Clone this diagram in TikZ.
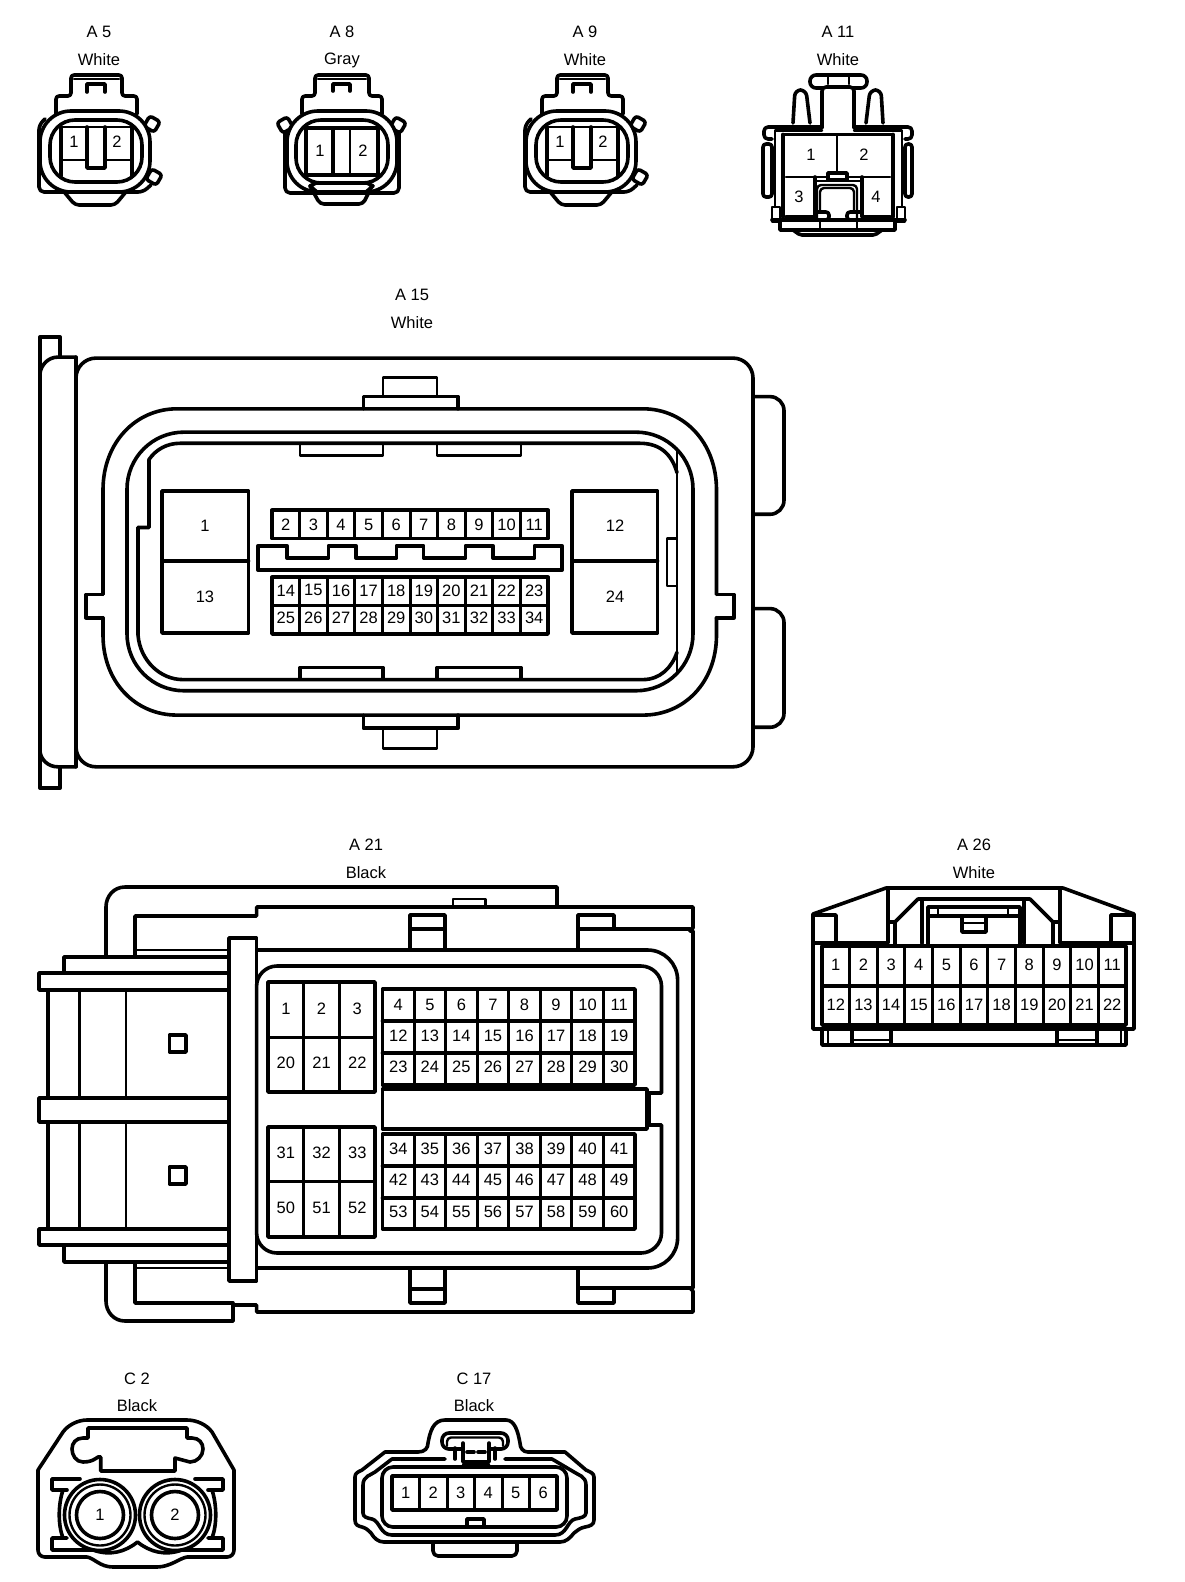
\documentclass[tikz,border=0pt]{standalone}
\usepackage{fontspec}
\setmainfont{Liberation Sans}
\tikzset{
 lbl/.style={font=\fontsize{16.5}{17}\selectfont,inner sep=0pt,text=black},
 pinno/.style={font=\fontsize{16.5}{17}\selectfont,inner sep=0pt,text=black},
 hv/.style={line width=3.6pt,line join=round,line cap=round,draw=black},
 dv/.style={line width=3pt,line join=round,draw=black},
 lt/.style={line width=2.4pt,line join=round,line cap=round,draw=black},
}
\newcommand{\pinrow}[5]{\foreach \n [count=\i from 0] in {#5}{\node[pinno] (#1\n) at ({#2+(\i+.5)*#3},#4) {\n};}}
% x0, dx, n, y0, y1
\newcommand{\gridcols}[5]{\draw[hv] (#1,#4) rectangle ({#1+#2*#3},#5);
 \foreach \k in {1,...,\numexpr#3-1\relax}{\draw[dv] ({#1+\k*#2},#4) -- ({#1+\k*#2},#5);}}
\newcommand{\ovalconn}{%
 \draw[hv,rounded corners=3] (56,114) -- (56,96) -- (71,96) -- (71,75) -- (122,75) -- (122,96) -- (137,96) -- (137,114);
 \draw[lt] (74,79) -- (119,79);
 \draw[hv] (87,92) -- (87,84) -- (105,84) -- (105,92);
 \draw[hv,rounded corners=5] (45,119) -- (39,125) -- (39,192) -- (143,192) -- (151,185);
 \draw[hv,rounded corners=4] (65,193) -- (75,205) -- (115,205) -- (125,193);
 \draw[hv,fill=white,rotate around={-30:(152,124)},rounded corners=3] (146,118) rectangle (158,130);
 \draw[hv,fill=white,rotate around={-30:(154,177)},rounded corners=3] (148,171) rectangle (160,183);
 \draw[hv,fill=white,rounded corners=31] (40,111) rectangle (150,192);
 \draw[hv,rounded corners=25] (50,120) rectangle (142,182);
 \draw[lt] (61,127) -- (132,127);
 \draw[hv] (61,127) -- (61,176);
 \draw[hv] (132,127) -- (132,176);
 \draw[lt] (61,160) -- (87,160);
 \draw[lt] (105,160) -- (132,160);
 \draw[hv] (87,127) -- (87,168) -- (105,168) -- (105,127);
}
\begin{document}
\begin{tikzpicture}[x=1pt,y=-1pt]
\useasboundingbox[fill=white] (0,0) rectangle (1184,1582);
% ---- labels
\node[lbl] (a5t) at (99,32) {A 5}; \node[lbl] (a5c) at (99,60) {White};
\node[lbl] (a8t) at (342,32) {A 8}; \node[lbl] (a8c) at (342,60) {Gray};
\node[lbl] (a9t) at (585,32) {A 9}; \node[lbl] (a9c) at (585,60) {White};
\node[lbl] (a11t) at (838,32) {A 11}; \node[lbl] (a11c) at (838,60) {White};
\node[lbl] (a15t) at (412,295) {A 15}; \node[lbl] (a15c) at (412,323) {White};
\node[lbl] (a21t) at (366,845) {A 21}; \node[lbl] (a21c) at (366,873) {Black};
\node[lbl] (a26t) at (974,845) {A 26}; \node[lbl] (a26c) at (974,873) {White};
\node[lbl] (c2t) at (137,1379) {C 2}; \node[lbl] (c2c) at (137,1406) {Black};
\node[lbl] (c17t) at (474,1379) {C 17}; \node[lbl] (c17c) at (474,1406) {Black};
% ---- A5
\ovalconn
\node[pinno] (a5p1) at (74,142) {1}; \node[pinno] (a5p2) at (117,142) {2};
% ---- A9
\begin{scope}[shift={(486,0)}]
\ovalconn
\node[pinno] (a9p1) at (74,142) {1}; \node[pinno] (a9p2) at (117,142) {2};
\end{scope}
% ---- A8
\draw[hv,rounded corners=3] (302,114) -- (302,96) -- (315,96) -- (315,75) -- (369,75) -- (369,96) -- (382,96) -- (382,114);
\draw[lt] (318,79) -- (366,79);
\draw[hv] (333,91) -- (333,84) -- (350,84) -- (350,91);
\draw[hv,rounded corners=5] (285,119) -- (285,193) -- (399,193) -- (399,119);
\draw[hv,fill=white,rotate around={30:(285,125)},rounded corners=3] (279,119) rectangle (291,131);
\draw[hv,fill=white,rotate around={-30:(398,125)},rounded corners=3] (392,119) rectangle (404,131);
\draw[hv,fill=white,rounded corners=31] (287,111) rectangle (397,192);
\draw[hv,rounded corners=25] (296,120) rectangle (388,183);
\draw[hv] (306,128) rectangle (378,175);
\draw[hv] (333,128) -- (333,175);
\draw[lt] (350,128) -- (350,175);
\draw[hv,fill=white] (310,186) -- (316,183) -- (367,183) -- (373,186) -- (366,192) -- (317,192) -- cycle;
\draw[hv,rounded corners=4] (310,186) -- (320,204) -- (363,204) -- (372,186);
\node[pinno] (a8p1) at (320,151) {1}; \node[pinno] (a8p2) at (363,151) {2};
% ---- A11
\draw[hv,rounded corners=6] (810,75) rectangle (867,88);
\draw[lt] (828,75) -- (828,84); \draw[lt] (849,75) -- (849,84);
\draw[hv,rounded corners=4,fill=white] (822,128) -- (822,87) -- (854,87) -- (854,128);
\draw[hv,rounded corners=6] (793,123) -- (795,90) -- (806,90) -- (810,123);
\draw[hv,rounded corners=6] (866,123) -- (870,90) -- (881,90) -- (883,123);
\draw[hv,rounded corners=4] (822,127) -- (764,127) -- (764,139) -- (772,139);
\draw[hv,rounded corners=4] (854,127) -- (912,127) -- (912,139) -- (905,139);
\draw[lt] (822,130.5) -- (775,130.5) -- (775,207);
\draw[lt] (854,130.5) -- (902,130.5) -- (902,207);
\draw[hv] (783,134.5) -- (893,134.5);
\draw[hv] (783,134.5) -- (783,217);
\draw[hv] (893,134.5) -- (893,217);
\draw[hv,rounded corners=3] (763,144) rectangle (772,197);
\draw[hv,rounded corners=3] (905,144) rectangle (912,197);
\draw[lt] (786,177) -- (890,177);
\draw[lt] (837,135) -- (837,177);
\draw[hv] (786,217) -- (815,217) -- (815,177);
\draw[hv] (890,217) -- (862,217) -- (862,177);
\draw[lt] (815,180.7) -- (828,180.7);
\draw[lt] (847,180.7) -- (862,180.7);
\draw[hv,fill=white] (828,173) rectangle (847,180);
\draw[lt,rounded corners=4] (817,220) -- (817,185) -- (857,185) -- (857,220);
\draw[lt,rounded corners=4] (820,212) -- (820,188) -- (854,188) -- (854,212);
\draw[hv,rounded corners=3] (815,212) -- (829,212) -- (829,220) -- (815,220);
\draw[hv,rounded corners=3] (862,212) -- (847,212) -- (847,220) -- (862,220);
\draw[lt] (772,207) -- (780,207) -- (780,222) -- (772,222) -- cycle;
\draw[lt] (905,207) -- (897,207) -- (897,222) -- (905,222) -- cycle;
\draw[hv] (772,220) -- (905,220);
\draw[hv] (780,222) -- (780,230) -- (895,230) -- (895,222);
\draw[lt] (820,220) -- (820,230); \draw[lt] (857,220) -- (857,230);
\draw[hv,rounded corners=2] (793,230) -- (800,235) -- (875,235) -- (882,230);
\node[pinno] (a11p1) at (811,155) {1}; \node[pinno] (a11p2) at (864,155) {2};
\node[pinno] (a11p3) at (799,197) {3}; \node[pinno] (a11p4) at (876,197) {4};
% ---- A15
\begin{scope}[shift={(0,-3.976)},yscale=1.0142]
\draw[hv] (60,356) -- (60,336) -- (40,336) -- (40,781) -- (60,781) -- (60,760);
\draw[hv] (40,372) .. controls (41,364) and (48,356) .. (58,356) -- (76,356);
\draw[hv] (40,745) .. controls (41,753) and (48,760) .. (58,760) -- (76,760);
\draw[hv] (76,356) -- (76,760);
\draw[hv,rounded corners=20] (76,357) rectangle (753,760);
\draw[hv,rounded corners=14] (753,395) -- (784,395) -- (784,511) -- (753,511);
\draw[hv,rounded corners=14] (753,604) -- (784,604) -- (784,721) -- (753,721);
\draw[lt] (383,395) -- (383,376) -- (437,376) -- (437,395);
\draw[hv] (363.5,407) -- (363.5,395) -- (458,395) -- (458,407);
\draw[hv] (363.5,709) -- (363.5,722) -- (458,722) -- (458,709);
\draw[lt] (383,722) -- (383,742) -- (437,742) -- (437,722);
\draw[hv] (103,590) -- (86,590) -- (86,613) -- (103,613);
\draw[hv] (716.5,590) -- (734,590) -- (734,613) -- (716.5,613);
\draw[hv] (103,590) -- (103,487) .. controls (103,440) and (136,407) .. (177,407) -- (643,407) .. controls (684,407) and (716.5,440) .. (716.5,487) -- (716.5,590);
\draw[hv] (103,613) -- (103,630) .. controls (103,677) and (136,709) .. (177,709) -- (643,709) .. controls (684,709) and (716.5,677) .. (716.5,630) -- (716.5,613);
\draw[hv,rounded corners=57] (127,430) rectangle (693,685);
\draw[hv] (138,524) -- (149,524) -- (149,457) .. controls (156,447) and (167,441) .. (180,441) -- (640,441) .. controls (660,441) and (672,452) .. (677,470);
\draw[hv] (138,524) -- (138,630) .. controls (140,655) and (160,674) .. (183,674) -- (643,674) .. controls (660,674) and (672,662) .. (677,647);
\draw[lt] (677,447) -- (677,668);
\draw[lt] (667,535) rectangle (677,582);
\draw[lt] (300,443) -- (300,453) -- (383,453) -- (383,443);
\draw[lt] (437,443) -- (437,453) -- (521,453) -- (521,443);
\draw[hv] (300,673) -- (300,662) -- (383,662) -- (383,673);
\draw[hv] (437,673) -- (437,662) -- (521,662) -- (521,673);
\draw[hv] (162,488) rectangle (248.5,628); \draw[hv] (162,557) -- (248.5,557);
\draw[hv] (572,488) rectangle (657.5,628); \draw[hv] (572,557) -- (657.5,557);
\gridcols{272}{27.6}{10}{507}{535}
\gridcols{272}{27.6}{10}{573}{629}
\draw[hv] (272,601) -- (548,601);
\draw[hv] (258,542) -- (287,542) -- (287,554) -- (328.5,554) -- (328.5,542) -- (356,542) -- (356,554) -- (396.5,554) -- (396.5,542) -- (423.5,542) -- (423.5,554) -- (465.5,554) -- (465.5,542) -- (493,542) -- (493,554) -- (534.5,554) -- (534.5,542) -- (562,542) -- (562,566) -- (258,566) -- cycle;
\node[pinno] (a15p1) at (205,522) {1}; \node[pinno] (a15p13) at (205,592) {13};
\node[pinno] (a15p12) at (615,522) {12}; \node[pinno] (a15p24) at (615,592) {24};
\pinrow{a15p}{272}{27.6}{521}{2,3,4,5,6,7,8,9,10,11}
\pinrow{a15p}{272}{27.6}{586}{14,15,16,17,18,19,20,21,22,23}
\pinrow{a15p}{272}{27.6}{613}{25,26,27,28,29,30,31,32,33,34}
\end{scope}
% ---- A21
\draw[hv] (106,957) -- (106,907) .. controls (106,896) and (114,887) .. (125,887) -- (557,887) -- (557,906);
\draw[hv] (135,957) -- (135,916) -- (256.6,916) -- (256.6,907) -- (693,907) -- (693,928) -- (690,931) -- (693,931) -- (693,1288) -- (690,1288) -- (693,1291) -- (693,1312) -- (256.6,1312) -- (256.6,1305) -- (233,1305) -- (233,1321);
\draw[lt] (453,907) -- (453,899) -- (485.6,899) -- (485.6,907);
\draw[hv] (410,950) -- (410,915) -- (445,915) -- (445,950);
\draw[hv] (410,929) -- (445,929);
\draw[hv] (578,950) -- (578,915) -- (614,915) -- (614,929);
\draw[hv] (578,929) -- (690,929);
\draw[hv] (410,1268) -- (410,1303) -- (445,1303) -- (445,1268);
\draw[hv] (410,1289) -- (445,1289);
\draw[hv] (578,1268) -- (578,1303) -- (614,1303) -- (614,1289);
\draw[hv] (578,1288) -- (690,1288);
\draw[lt] (135,950) -- (229,950);
\draw[lt] (135,1268) -- (229,1268);
\draw[hv,rounded corners=30] (256.6,950) -- (677.6,950) -- (677.6,1268) -- (256.6,1268);
\draw[hv] (256.6,958) .. controls (246,968) and (241,978) .. (241,992) -- (241,1228) .. controls (241,1240) and (246,1250) .. (256.6,1260);
\draw[hv,fill=white] (229,938) rectangle (256.6,1281);
\draw[hv] (661.5,1093) -- (661.5,986) .. controls (661.5,975) and (652,966) .. (641,966) -- (277,966) .. controls (266,966) and (256.6,975) .. (256.6,986) -- (256.6,1233) .. controls (256.6,1244) and (266,1253) .. (277,1253) -- (641,1253) .. controls (652,1253) and (661.5,1244) .. (661.5,1233) -- (661.5,1125) -- (649,1125) -- (649,1093) -- cycle;
\draw[hv,fill=white] (382.5,1089) rectangle (647,1129);
\draw[hv] (268,982) rectangle (375,1092);
\draw[dv] (303.5,982) -- (303.5,1092); \draw[dv] (339.6,982) -- (339.6,1092); \draw[dv] (268,1037) -- (375,1037);
\draw[hv] (268,1127) rectangle (375,1237);
\draw[dv] (303.5,1127) -- (303.5,1237); \draw[dv] (339.6,1127) -- (339.6,1237); \draw[dv] (268,1181) -- (375,1181);
\gridcols{382.5}{31.56}{8}{989}{1085}
\draw[hv] (382.5,1021) -- (635,1021); \draw[hv] (382.5,1053) -- (635,1053);
\gridcols{382.5}{31.56}{8}{1134}{1229}
\draw[hv] (382.5,1166) -- (635,1166); \draw[hv] (382.5,1198) -- (635,1198);
\draw[hv] (229,957) -- (64,957) -- (64,973);
\draw[hv] (229,973) -- (39,973) -- (39,990) -- (229,990);
\draw[hv] (229,1098) -- (39,1098) -- (39,1122) -- (229,1122);
\draw[hv] (229,1229) -- (39,1229) -- (39,1245) -- (229,1245);
\draw[hv] (64,1245) -- (64,1262) -- (229,1262);
\draw[hv] (48,990) -- (48,1098); \draw[hv] (48,1122) -- (48,1229);
\draw[lt] (79.4,990) -- (79.4,1098); \draw[lt] (79.4,1122) -- (79.4,1229);
\draw[lt] (126,990) -- (126,1098); \draw[lt] (126,1122) -- (126,1229);
\draw[hv] (169.6,1035) rectangle (186,1052);
\draw[hv] (169.6,1167) rectangle (186,1184);
\draw[hv] (106,1262) -- (106,1301) .. controls (106,1312) and (114,1321) .. (125,1321) -- (233,1321);
\draw[hv] (135,1262) -- (135,1303) -- (233,1303);
\pinrow{a21p}{268}{35.7}{1009}{1,2,3}
\pinrow{a21p}{268}{35.7}{1063}{20,21,22}
\pinrow{a21p}{268}{35.7}{1153}{31,32,33}
\pinrow{a21p}{268}{35.7}{1208}{50,51,52}
\pinrow{a21p}{382.5}{31.56}{1005}{4,5,6,7,8,9,10,11}
\pinrow{a21p}{382.5}{31.56}{1036}{12,13,14,15,16,17,18,19}
\pinrow{a21p}{382.5}{31.56}{1067}{23,24,25,26,27,28,29,30}
\pinrow{a21p}{382.5}{31.56}{1149}{34,35,36,37,38,39,40,41}
\pinrow{a21p}{382.5}{31.56}{1180}{42,43,44,45,46,47,48,49}
\pinrow{a21p}{382.5}{31.56}{1212}{53,54,55,56,57,58,59,60}
% ---- A26
\draw[hv] (813,1029) -- (813,914) -- (886,888) -- (1063,888) -- (1134,914) -- (1134,1029) -- (813,1029);
\draw[hv] (813,943) -- (888,943) -- (888,889); \draw[hv] (1134,943) -- (1060,943) -- (1060,889);
\draw[hv] (813,915) -- (836,915) -- (836,943); \draw[hv] (1134,915) -- (1111,915) -- (1111,943);
\draw[hv] (888,922) -- (895,922) -- (918,899) -- (1030,899) -- (1053,922) -- (1060,922);
\draw[hv] (895,922) -- (895,946); \draw[hv] (1053,922) -- (1053,946);
\draw[hv] (922,899) -- (922,943); \draw[hv] (1024,899) -- (1024,943);
\draw[hv] (928,946) -- (928,907) -- (1020,907) -- (1020,946);
\draw[hv] (928,916) -- (1020,916);
\draw[lt] (938,907) -- (938,916); \draw[lt] (1008,907) -- (1008,916);
\draw[hv] (962,916) -- (962,932) -- (986,932) -- (986,916);
\draw[lt] (962,923) -- (986,923);
\gridcols{822}{27.64}{11}{946}{1025}
\draw[hv] (822,986) -- (1126,986);
\draw[hv] (822,1029) -- (822,1045) -- (1126,1045) -- (1126,1029);
\draw[lt] (828,1029) -- (828,1045); \draw[lt] (1121,1029) -- (1121,1045);
\draw[hv] (852,1029) -- (852,1045); \draw[hv] (891,1029) -- (891,1045); \draw[lt] (852,1040) -- (891,1040);
\draw[hv] (1057,1029) -- (1057,1045); \draw[hv] (1097,1029) -- (1097,1045); \draw[lt] (1057,1040) -- (1097,1040);
\pinrow{a26p}{822}{27.64}{965}{1,2,3,4,5,6,7,8,9,10,11}
\pinrow{a26p}{822}{27.64}{1005}{12,13,14,15,16,17,18,19,20,21,22}
% ---- C2
\draw[hv] (38,1470) -- (63,1432) .. controls (68,1425) and (78,1420) .. (87,1420) -- (187,1420) .. controls (197,1420) and (207,1425) .. (212,1432) -- (234,1470) -- (234,1550) .. controls (234,1554) and (231,1557) .. (227,1557) -- (187,1557) .. controls (180,1558) and (170,1567) .. (157,1567) -- (113,1567) .. controls (100,1567) and (94,1558) .. (87,1557) -- (45,1557) .. controls (41,1557) and (38,1554) .. (38,1550) -- cycle;
\draw[hv] (100.7,1471) -- (100.7,1457) .. controls (97,1455) and (96,1462) .. (83,1462) .. controls (76,1462) and (72,1455) .. (72,1449) .. controls (72,1443) and (76,1438) .. (83,1438) -- (88,1438) -- (88,1428) -- (187,1428) -- (187,1438) -- (192,1438) .. controls (199,1438) and (203,1443) .. (203,1449) .. controls (203,1456) and (197,1462) .. (190,1462) -- (175,1458) -- (175,1471) -- cycle;
\draw[hv] (80,1479) -- (52,1479) -- (52,1490) -- (67,1490);
\draw[hv] (67,1538) -- (52,1538) -- (52,1550) -- (93,1550) .. controls (110,1556) and (125,1552) .. (137.5,1542) .. controls (150,1552) and (165,1556) .. (182,1550) -- (223,1550) -- (223,1538) -- (208,1538);
\draw[hv] (195,1479) -- (223,1479) -- (223,1490) -- (208,1490);
\draw[hv] (63,1490) .. controls (58,1505) and (58,1525) .. (63,1538);
\draw[hv] (212,1490) .. controls (217,1505) and (217,1525) .. (212,1538);
\draw[hv,fill=white] (100,1515) circle (35.5);
\draw[hv,fill=white] (175,1515) circle (35.5);
\draw[lt] (100,1515) circle (30.5); \draw[lt] (175,1515) circle (30.5);
\draw[hv] (100,1515) circle (23.5); \draw[hv] (175,1515) circle (23.5);
\node[pinno] (c2p1) at (100,1515) {1}; \node[pinno] (c2p2) at (175,1515) {2};
% ---- C17
\draw[hv] (355,1477) .. controls (355,1473) and (358,1472) .. (362,1470) -- (385,1452) -- (418,1452) .. controls (425,1452) and (428,1448) .. (428,1443) .. controls (430,1432) and (433,1420) .. (445,1420) -- (506,1420) .. controls (515,1420) and (518,1432) .. (520,1443) .. controls (520,1448) and (523,1452) .. (528,1452) -- (565,1452) -- (586,1470) .. controls (590,1472) and (594,1473) .. (594,1477) -- (594,1520) .. controls (594,1525) and (590,1526) .. (585,1527) .. controls (580,1528) and (578,1530) .. (574,1533) .. controls (570,1538) and (566,1542) .. (560,1542) -- (384,1542) .. controls (378,1542) and (374,1538) .. (371,1533) .. controls (368,1530) and (366,1528) .. (362,1527) .. controls (358,1526) and (355,1525) .. (355,1520) -- cycle;
\draw[hv] (445,1459) -- (392,1459) -- (375,1472) .. controls (371,1475) and (363,1476) .. (363,1485) -- (363,1513) .. controls (363,1517) and (367,1518) .. (372,1519) .. controls (380,1521) and (380,1535) .. (392,1535) -- (555,1535) .. controls (567,1535) and (567,1521) .. (575,1519) .. controls (580,1518) and (586,1517) .. (586,1513) -- (586,1485) .. controls (586,1476) and (578,1475) .. (574,1472) -- (552,1459) -- (505,1459);
\draw[hv,rounded corners=11] (382,1467) rectangle (567,1527);
\draw[hv,rounded corners=7,fill=white] (442,1433) rectangle (508,1449);
\draw[lt,rounded corners=4] (447,1446) -- (447,1437.5) -- (503,1437.5) -- (503,1446);
\draw[hv] (455,1448) -- (455,1459);
\draw[hv] (495,1448) -- (495,1459);
\draw[hv,fill=white] (463,1443) -- (463,1462) -- (489,1462) -- (489,1443);
\draw[lt] (463,1464.5) -- (489,1464.5);
\draw[hv] (467,1452) -- (474,1452); \draw[hv] (478,1452) -- (485,1452);
\gridcols{392}{27.5}{6}{1476}{1510}
\draw[hv] (467,1527) -- (467,1519) -- (484,1519) -- (484,1527);
\draw[hv,rounded corners=5] (433,1543) -- (433,1556) -- (517,1556) -- (517,1543);
\pinrow{c17p}{392}{27.5}{1493}{1,2,3,4,5,6}
\end{tikzpicture}
\end{document}
